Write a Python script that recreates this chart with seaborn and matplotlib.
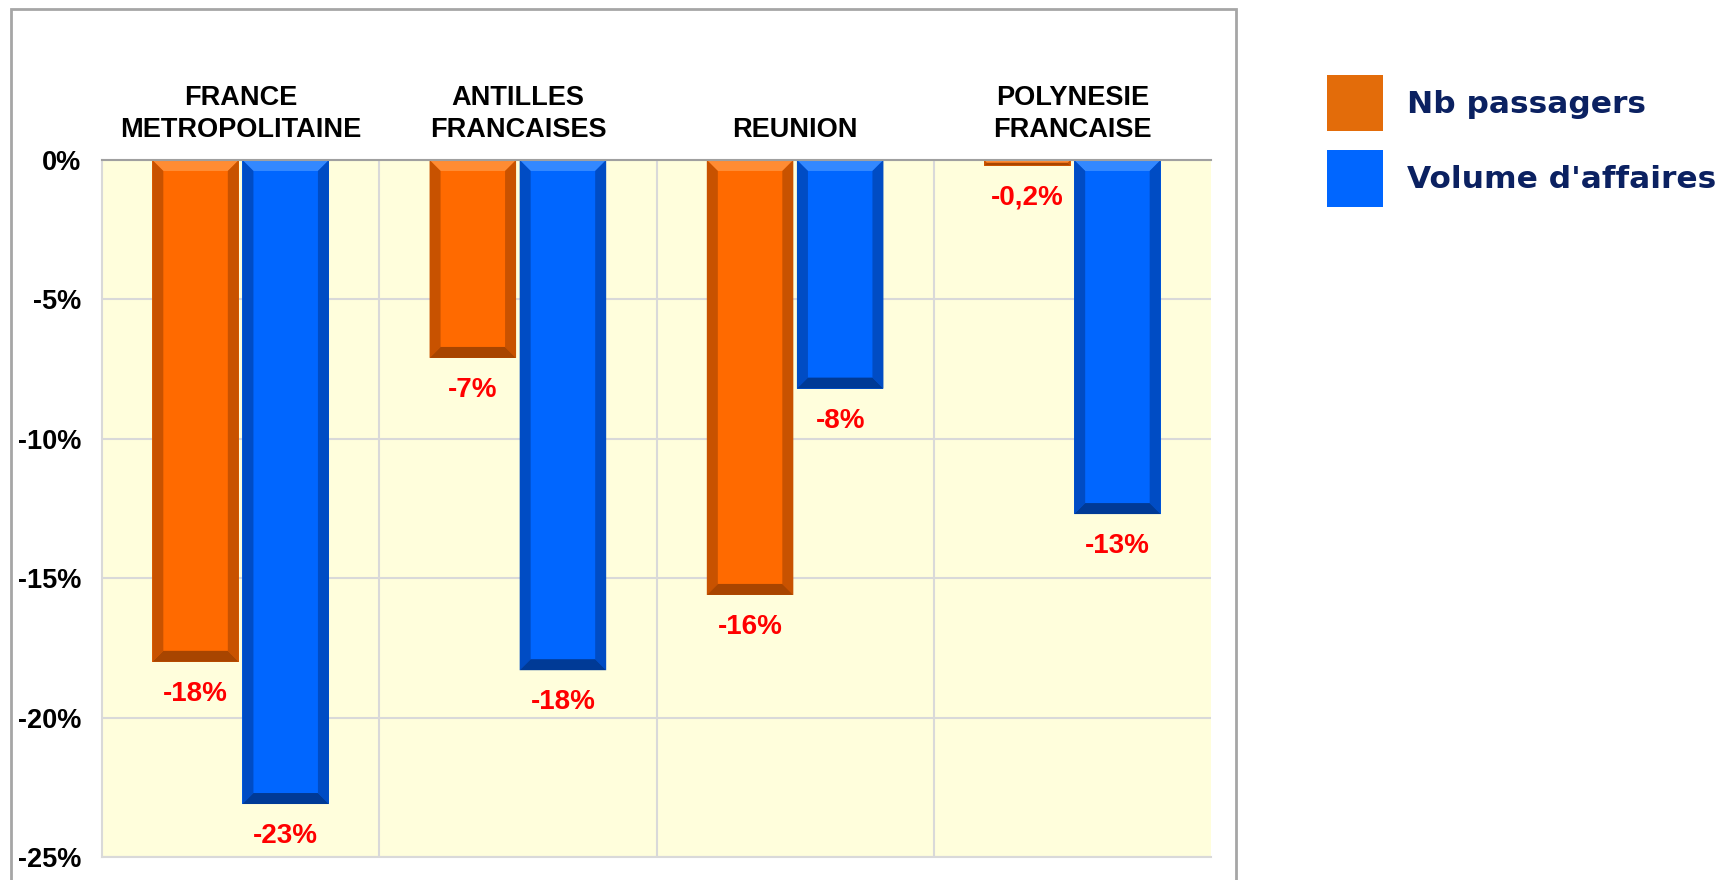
import pandas as pd
import matplotlib.pyplot as plt
import seaborn as sns
from matplotlib.patches import Patch, Polygon, Rectangle

regions = ["FRANCE\nMETROPOLITAINE", "ANTILLES\nFRANCAISES", "REUNION", "POLYNESIE\nFRANCAISE"]
series = ["Nb passagers", "Volume d'affaires"]
passagers = [-18.0, -7.1, -15.6, -0.2]
affaires = [-23.1, -18.3, -8.2, -12.7]
labels_passagers = ["-18%", "-7%", "-16%", "-0,2%"]
labels_affaires = ["-23%", "-18%", "-8%", "-13%"]
yticks = [0, -5, -10, -15, -20, -25]

# main, top bevel, side bevel, bottom bevel
bar_colors = {
    "Nb passagers": ("#FF6A00", "#FF8C33", "#C85200", "#A84500"),
    "Volume d'affaires": ("#0066FF", "#3388FF", "#004CC4", "#003A96"),
}
legend_colors = ["#E36C0A", "#0066FF"]

df = pd.DataFrame({
    "region": regions * 2,
    "series": [series[0]] * 4 + [series[1]] * 4,
    "value": passagers + affaires,
})

sns.set_style("white")
plt.rcParams['font.family'] = ['Liberation Sans', 'DejaVu Sans']

fig = plt.figure(figsize=(17.23, 8.8), dpi=100)
ax = fig.add_axes([102 / 1723, 1 - 857 / 880, (1211 - 102) / 1723, (857 - 160) / 880])
ax.set_facecolor("#FFFEDC")

sns.barplot(data=df, x="region", y="value", hue="series",
            palette={s: bar_colors[s][0] for s in series},
            width=0.65, gap=0.04, legend=False, ax=ax, saturation=1,
            linewidth=0, zorder=3)

ax.set_xlim(-0.5, 3.5)
ax.set_ylim(-25, 0)
ax.set_yticks(yticks)
ax.set_yticklabels([f"{v}%" for v in yticks])
ax.set_xticks(range(len(regions)))
ax.set_xticklabels(regions)
ax.xaxis.tick_top()
ax.set_xticks([0.5, 1.5, 2.5], minor=True)
ax.tick_params(axis="x", which="major", length=0, pad=12, labelsize=19.5, labelcolor="black")
ax.tick_params(axis="x", which="minor", length=0)
ax.tick_params(axis="y", length=0, pad=15, labelsize=19.5, labelcolor="black")
for t in ax.get_xticklabels() + ax.get_yticklabels():
    t.set_fontweight("bold")
for t in ax.get_xticklabels():
    t.set_linespacing(1.3)
ax.set_xlabel("")
ax.set_ylabel("")
ax.grid(axis="y", color="#D9D9D9", linewidth=1.5, zorder=0)
ax.grid(axis="x", which="minor", color="#D9D9D9", linewidth=1.5, zorder=0)
ax.set_axisbelow(True)
for side in ["left", "right", "bottom"]:
    ax.spines[side].set_color("#D9D9D9")
    ax.spines[side].set_linewidth(1.5)
ax.spines["right"].set_visible(False)
ax.spines["top"].set_color("#A0A0A0")
ax.spines["top"].set_linewidth(1.5)
ax.spines["top"].set_zorder(5)

# bevelled look on each bar, built from the bar geometry
inv = ax.transData.inverted()
for cont, s, labs in zip(ax.containers, series, [labels_passagers, labels_affaires]):
    main, top, side, bottom = bar_colors[s]
    for bar, lab in zip(cont, labs):
        x0, y0 = ax.transData.transform((bar.get_x(), bar.get_y()))
        x1, y1 = ax.transData.transform((bar.get_x() + bar.get_width(), bar.get_y() + bar.get_height()))
        yt, yb = max(y0, y1), min(y0, y1)
        b = min(11, (yt - yb) / 2, (x1 - x0) / 2)
        polys = [
            ([(x0, yt), (x1, yt), (x1 - b, yt - b), (x0 + b, yt - b)], top),
            ([(x0, yt), (x0 + b, yt - b), (x0 + b, yb + b), (x0, yb)], side),
            ([(x1, yt), (x1 - b, yt - b), (x1 - b, yb + b), (x1, yb)], side),
            ([(x0, yb), (x1, yb), (x1 - b, yb + b), (x0 + b, yb + b)], bottom),
        ]
        for pts, c in polys:
            ax.add_patch(Polygon(inv.transform(pts), closed=True, facecolor=c,
                                 edgecolor="none", zorder=4))
        ax.annotate(lab, (bar.get_x() + bar.get_width() / 2, bar.get_y() + bar.get_height()),
                    xytext=(0, -23), textcoords="offset points", ha="center", va="center",
                    color="#FF0000", fontsize=20, fontweight="bold", zorder=6)

# outer frame of the chart area
fig.patches.append(Rectangle((11 / 1723, -0.05), (1236 - 11) / 1723, 1.05 - 9 / 880,
                             transform=fig.transFigure, fill=False,
                             edgecolor="#A6A6A6", linewidth=2))

handles = [Patch(facecolor=c, edgecolor="none") for c in legend_colors]
leg = fig.legend(handles, series, loc="upper left",
                 bbox_to_anchor=(1327 / 1723, 1 - 75 / 880), frameon=False,
                 borderpad=0, borderaxespad=0, handlelength=1.8, handleheight=2.4,
                 handletextpad=0.75, labelspacing=0.6,
                 prop={"family": "DejaVu Sans", "weight": "bold", "size": 22.5})
for t in leg.get_texts():
    t.set_color("#0B2161")

fig.savefig("out.png", dpi=100)
